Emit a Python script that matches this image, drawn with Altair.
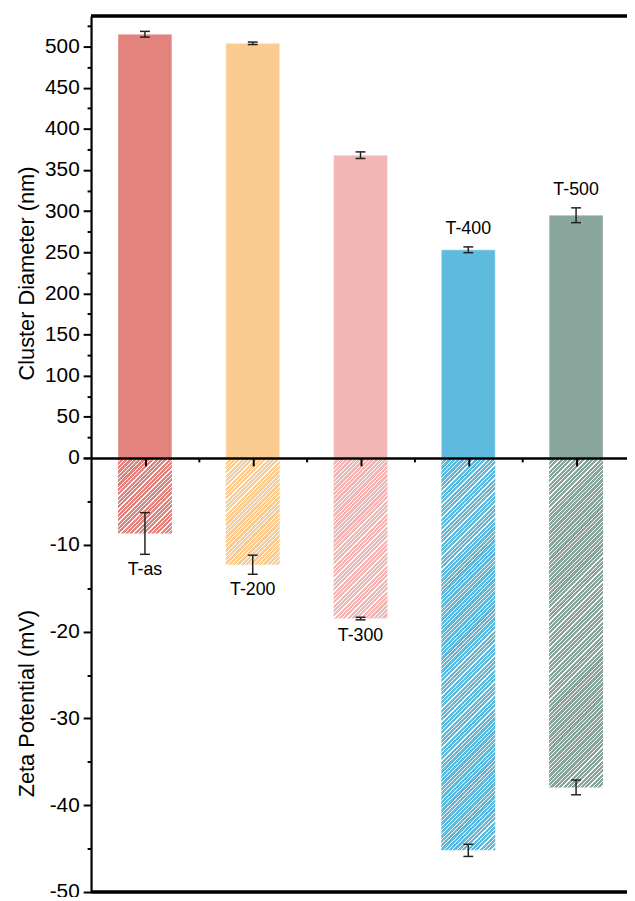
import math
import altair as alt
import pandas as pd

# ---------------- data ----------------
categories = ["T-as", "T-200", "T-300", "T-400", "T-500"]
positions = [1, 2, 3, 4, 5]
diameter = [515, 504, 368, 253, 295]
diameter_err = [3.5, 1.5, 4, 3.5, 9]
zeta = [-8.7, -12.3, -18.5, -45.2, -37.95]
zeta_err = [2.4, 1.1, 0.15, 0.7, 0.85]
label_side = ["bottom", "bottom", "bottom", "top", "top"]
colors = ["#E3837D", "#FCCB8F", "#F2B6B4", "#5EBBDD", "#88A69C"]

# ---------------- layout ----------------
W = 542
H_TOP = 447
H_BOT = 439
H = H_TOP + H_BOT
X_DOMAIN = [0.5, 0.5 + W / 109.0]
DIAM_MAX = H_TOP / 0.832
FONT = "Liberation Sans"
PX_PER_MV = H_BOT / 50.0
SEG = 5.0            # hatch tile height (mV)
HATCH_V = 0.5 * PX_PER_MV   # vertical period of the hatch (px)

df = pd.DataFrame({
    "sample": categories,
    "pos": positions,
    "diam": diameter,
    "diam_err": diameter_err,
    "zeta": zeta,
    "zeta_err": zeta_err,
    "side": label_side,
})

# hatched bars are drawn as tiles of SEG mV, derived from the zeta values
seg_rows = []
for cat, p, z in zip(categories, positions, zeta):
    n_full = int(abs(z) // SEG)
    for k in range(n_full):
        seg_rows.append({"sample": cat, "pos": p, "top": -SEG * k,
                         "bot": -SEG * (k + 1) - 0.06, "kind": "full"})
    if abs(z) - SEG * n_full > 1e-9:
        seg_rows.append({"sample": cat, "pos": p, "top": -SEG * n_full,
                         "bot": z, "kind": "part"})
seg_df = pd.DataFrame(seg_rows)

calc = dict(
    x0="datum.pos - 0.25",
    x1="datum.pos + 0.25",
    zero="0",
)
base = alt.Chart(df).transform_calculate(
    d_lo="datum.diam - datum.diam_err",
    d_hi="datum.diam + datum.diam_err",
    z_lo="datum.zeta - datum.zeta_err",
    z_hi="datum.zeta + datum.zeta_err",
    **calc,
)
seg_base = alt.Chart(seg_df).transform_calculate(**calc)

x_scale = alt.Scale(domain=X_DOMAIN, nice=False, zero=False)
top_scale = alt.Scale(domain=[0, DIAM_MAX], range=[H_TOP, 0], nice=False, zero=False)
bot_scale = alt.Scale(domain=[-50, 0], range=[H, H_TOP], nice=False, zero=False)

x_axis = alt.Axis(
    values=[1, 1.5, 2, 2.5, 3, 3.5, 4, 4.5, 5], labels=False, title=None, grid=False,
    domainColor="black", domainWidth=2.5, tickColor="black", tickWidth=2,
    tickSize={"condition": {"test": "datum.value % 1 === 0", "value": 8}, "value": 4},
    offset=-H_BOT, zindex=2, orient="bottom",
)

top_axis = alt.Axis(
    orient="left",
    values=list(range(0, 526, 25)),
    labelExpr="datum.value % 50 === 0 ? '' + datum.value : ''",
    tickSize={"condition": {"test": "datum.value % 50 === 0", "value": 8}, "value": 4},
    title="Cluster Diameter (nm)", titleX=-65, titleY=260, titleBaseline="middle",
    titleAngle=270, titleAlign="center",
    grid=False, domainColor="black", domainWidth=2.2, tickColor="black", tickWidth=2,
    labelPadding=4, zindex=2,
)

bot_axis = alt.Axis(
    orient="left",
    values=list(range(-50, 1, 5)),
    labelExpr="datum.value % 10 === 0 && datum.value !== 0 ? '' + datum.value : ''",
    tickSize={"condition": {"test": "datum.value % 10 === 0", "value": 8}, "value": 4},
    title="Zeta Potential (mV)", titleX=-65, titleY=H_TOP + 248, titleBaseline="middle",
    titleAngle=270, titleAlign="center",
    grid=False, domainColor="black", domainWidth=2.2, tickColor="black", tickWidth=2,
    labelPadding=4, zindex=2,
)

X = lambda f: alt.X(f, type="quantitative", scale=x_scale, axis=x_axis)

color_enc = alt.Color("sample:N", scale=alt.Scale(domain=categories, range=colors), legend=None)

# ---------------- top panel ----------------
top_bars = base.mark_bar(stroke="white", strokeOpacity=0.35, strokeWidth=1.2).encode(
    x=X("x0"), x2="x1:Q",
    y=alt.Y("diam:Q", scale=top_scale, axis=top_axis),
    y2="zero:Q",
    color=color_enc,
)
top_err = base.mark_rule(color="#222222", strokeWidth=1.5).encode(
    x=X("pos"),
    y=alt.Y("d_lo:Q", scale=top_scale, axis=None), y2="d_hi:Q",
)
top_cap_lo = base.mark_tick(orient="horizontal", size=10, thickness=1.5, color="#222222", opacity=1).encode(
    x=X("pos"), y=alt.Y("d_lo:Q", scale=top_scale, axis=None),
)
top_cap_hi = base.mark_tick(orient="horizontal", size=10, thickness=1.5, color="#222222", opacity=1).encode(
    x=X("pos"), y=alt.Y("d_hi:Q", scale=top_scale, axis=None),
)
top_labels = base.transform_filter("datum.side === 'top'").mark_text(
    font=FONT, fontSize=18, dy=-18, baseline="middle", color="black"
).encode(
    x=X("pos"), y=alt.Y("d_hi:Q", scale=top_scale, axis=None), text="sample:N",
)

# ---------------- bottom panel (hatched) ----------------
px_per_x = W / (X_DOMAIN[1] - X_DOMAIN[0])
bar_w = 0.5 * px_per_x


def hatch(color, w, h, vperiod=HATCH_V, white_frac=0.27):
    k = (w + h) / (w * w + h * h)
    n = (w + h) / vperiod
    stops = []
    i = 0
    while i < n:
        a = min(i / n, 1)
        b = min((i + 1 - white_frac) / n, 1)
        c = min((i + 1) / n, 1)
        stops += [
            alt.GradientStop(offset=a, color=color),
            alt.GradientStop(offset=b, color=color),
            alt.GradientStop(offset=b, color="#ffffff"),
            alt.GradientStop(offset=c, color="#ffffff"),
        ]
        i += 1
    return alt.LinearGradient(gradient="linear", stops=stops, x1=0, y1=0, x2=w * k, y2=h * k)


bot_bars = []
first = True
for cat, col in zip(categories, colors):
    sub = seg_df[seg_df["sample"] == cat]
    for kind in ["full", "part"]:
        rows = sub[sub["kind"] == kind]
        if rows.empty:
            continue
        h = abs(rows["top"].iloc[0] - rows["bot"].iloc[0]) * PX_PER_MV
        bot_bars.append(
            seg_base.transform_filter(
                (alt.datum.sample == cat) & (alt.datum.kind == kind)
            ).mark_bar(fill=hatch(col, bar_w, h), strokeWidth=0).encode(
                x=X("x0"), x2="x1:Q",
                y=alt.Y("bot:Q", scale=bot_scale, axis=bot_axis if first else None),
                y2="top:Q",
            )
        )
        first = False

bot_err = base.mark_rule(color="#222222", strokeWidth=1.5).encode(
    x=X("pos"),
    y=alt.Y("z_lo:Q", scale=bot_scale, axis=None), y2="z_hi:Q",
)
bot_cap_lo = base.mark_tick(orient="horizontal", size=10, thickness=1.5, color="#222222", opacity=1).encode(
    x=X("pos"), y=alt.Y("z_lo:Q", scale=bot_scale, axis=None),
)
bot_cap_hi = base.mark_tick(orient="horizontal", size=10, thickness=1.5, color="#222222", opacity=1).encode(
    x=X("pos"), y=alt.Y("z_hi:Q", scale=bot_scale, axis=None),
)
bot_labels = base.transform_filter("datum.side === 'bottom'").mark_text(
    font=FONT, fontSize=18, dy=16, baseline="middle", color="black"
).encode(
    x=X("pos"), y=alt.Y("z_lo:Q", scale=bot_scale, axis=None), text="sample:N",
)

# ---------------- frame lines ----------------
frame_top = alt.Chart(df).mark_rule(color="black", strokeWidth=2.5).encode(
    x=alt.value(0), x2=alt.value(W), y=alt.value(0)
)
frame_bot = alt.Chart(df).mark_rule(color="black", strokeWidth=2.5).encode(
    x=alt.value(0), x2=alt.value(W), y=alt.value(H)
)

chart = alt.layer(
    top_bars, *bot_bars,
    top_err, top_cap_lo, top_cap_hi, top_labels,
    bot_err, bot_cap_lo, bot_cap_hi, bot_labels,
    frame_top, frame_bot,
).resolve_scale(y="independent").properties(
    width=W, height=H,
    autosize=alt.AutoSizeParams(type="none"),
    padding={"left": 84, "top": 3, "right": 0, "bottom": 0},
).configure_view(stroke=None).configure_axis(
    labelFont=FONT, labelFontSize=21, labelColor="black",
    titleFont=FONT, titleFontSize=22, titleFontWeight="normal", titleColor="black",
)

chart.save("out.html", embed_options={"renderer": "svg", "actions": False})
